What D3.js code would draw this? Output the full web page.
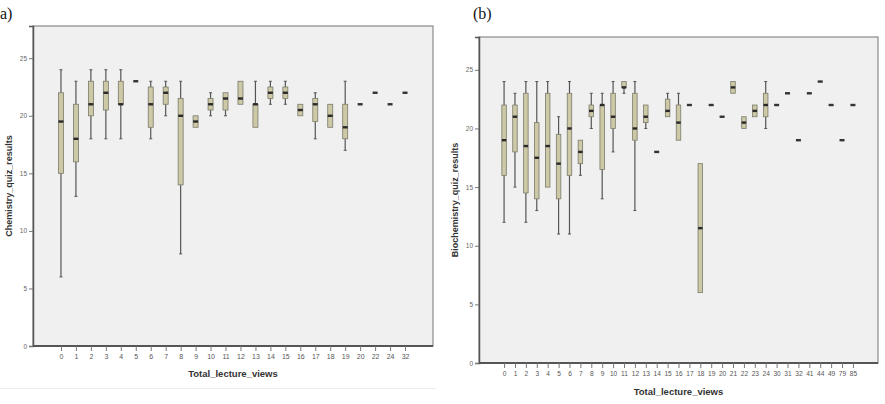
<!DOCTYPE html>
<html><head><meta charset="utf-8">
<script src="https://cdn.jsdelivr.net/npm/d3@7"></script>
<style>body{margin:0;background:#fff}svg{display:block}</style>
</head><body>
<svg id="chart" width="885" height="404"></svg>
<script>
// ---- Data: (a) Chemistry quiz results by total lecture views ----
const chemCats = ["0","1","2","3","4","5","6","7","8","9","10","11","12","13","14","15","16","17","18","19","20","22","24","32"];
const chemMin  = [6, 13, 18, 18,   18, 23, 18,   20,   8,  19,  20,   20,   21,   19, 21,   21,   20,   18,   19, 17, 21, 22, 21, 22];
const chemQ1   = [15,16, 20, 20.5, 21, 23, 19,   21,   14, 19,  20.5, 20.5, 21,   19, 21.5, 21.5, 20,   19.5, 19, 18, 21, 22, 21, 22];
const chemMed  = [19.5,18,21,22,   21, 23, 21,   22,   20, 19.5,21,   21.5, 21.5, 21, 22,   22,   20.5, 21,   20, 19, 21, 22, 21, 22];
const chemQ3   = [22, 21, 23, 23,   23, 23, 22.5, 22.5, 21.5,20, 21.5, 22,   23,   21, 22.5, 22.5, 21,   21.5, 21, 21, 21, 22, 21, 22];
const chemMax  = [24, 23, 24, 24,   24, 23, 23,   23,   23, 20,  22,   22,   23,   23, 23,   23,   21,   22,   21, 23, 21, 22, 21, 22];

// ---- Data: (b) Biochemistry quiz results by total lecture views ----
const bioCats = ["0","1","2","3","4","5","6","7","8","9","10","11","12","13","14","15","16","17","18","19","20","21","22","23","24","30","31","32","41","44","49","79","85"];
const bioMin  = [12, 15, 12,   13,   15,   11,   11, 16, 20,   14,   18, 23,   13, 20,   18, 21,   19,   22, 6,    22, 21, 23,   20,   21,   20, 22, 23, 19, 23, 24, 22, 19, 22];
const bioQ1   = [16, 18, 14.5, 14,   15,   14,   16, 17, 21,   16.5, 20, 23.5, 19, 20.5, 18, 21,   19,   22, 6,    22, 21, 23,   20,   21,   21, 22, 23, 19, 23, 24, 22, 19, 22];
const bioMed  = [19, 21, 18.5, 17.5, 18.5, 17,   20, 18, 21.5, 22,   21, 23.5, 20, 21,   18, 21.5, 20.5, 22, 11.5, 22, 21, 23.5, 20.5, 21.5, 22, 22, 23, 19, 23, 24, 22, 19, 22];
const bioQ3   = [22, 22, 23,   20.5, 23,   19.5, 23, 19, 22,   22,   23, 24,   23, 22,   18, 22.5, 22,   22, 17,   22, 21, 24,   21,   22,   23, 22, 23, 19, 23, 24, 22, 19, 22];
const bioMax  = [24, 23, 24,   24,   24,   21,   24, 19, 23,   23,   24, 24,   24, 22,   18, 23,   23,   22, 17,   22, 21, 24,   21,   22,   24, 22, 23, 19, 23, 24, 22, 19, 22];

const yTicks = [0, 5, 10, 15, 20, 25];

const svg = d3.select("#chart");
svg.append("line").attr("x1",0).attr("x2",436).attr("y1",388.5).attr("y2",388.5)
  .attr("stroke","#ececec").attr("stroke-width",1);

function panel(cfg) {
  const {cats, mn, q1, md, q3, mx, x0, x1, y0, y1, pad, boxW, yTitle, xLabelSize, xLabelY, xTitleY, yTitleX} = cfg;
  const x = d3.scalePoint().domain(cats).range([x0, x1]).padding(pad);
  const y = d3.scaleLinear().domain([0, 27.8]).range([y1, y0]);
  const g = svg.append("g");

  g.append("rect").attr("x", x0).attr("y", y0).attr("width", x1 - x0).attr("height", y1 - y0)
    .attr("fill", "#f0f0f0").attr("stroke", "#8a8a8a").attr("stroke-width", 1.2);

  const yAxis = d3.axisLeft(y).tickValues(yTicks).tickSize(4).tickPadding(2);
  const ga = g.append("g").attr("transform", `translate(${x0},0)`).call(yAxis);
  ga.select(".domain").attr("stroke", "#555").attr("stroke-width", 1.5);
  ga.selectAll(".tick line").attr("stroke", "#777");
  ga.selectAll(".tick text").attr("font-size", 6.5).attr("fill", "#666").attr("font-family", "Liberation Sans, Arial, sans-serif");

  const xAxis = d3.axisBottom(x).tickSize(5).tickPadding(3);
  const gx = g.append("g").attr("transform", `translate(0,${y1})`).call(xAxis);
  gx.select(".domain").attr("stroke", "#555").attr("stroke-width", 1.8).attr("d", `M${x0},0H${x1}`);
  gx.selectAll(".tick line").attr("stroke", "#777");
  gx.selectAll(".tick text").attr("font-size", xLabelSize).attr("fill", "#555")
    .attr("font-family", "Liberation Sans, Arial, sans-serif").attr("y", xLabelY);

  g.append("text").attr("x", (x0 + x1) / 2).attr("y", xTitleY).attr("text-anchor", "middle")
    .attr("font-family", "Liberation Sans, Arial, sans-serif").attr("font-weight", "bold")
    .attr("font-size", 9.5).attr("fill", "#333").text("Total_lecture_views");
  g.append("text").attr("transform", `translate(${yTitleX},${(y0 + y1) / 2}) rotate(-90)`)
    .attr("text-anchor", "middle").attr("font-family", "Liberation Sans, Arial, sans-serif")
    .attr("font-weight", "bold").attr("font-size", 9).attr("fill", "#333").text(yTitle);

  const idx = d3.range(cats.length);
  const marks = g.append("g");
  idx.forEach(i => {
    const cx = x(cats[i]);
    if (mn[i] === mx[i]) {
      marks.append("rect").attr("x", cx - 2.5).attr("y", y(md[i]) - 1.2).attr("width", 5).attr("height", 2.4)
        .attr("fill", "#333");
      return;
    }
    if (mx[i] > q3[i]) {
      marks.append("line").attr("x1", cx).attr("x2", cx).attr("y1", y(mx[i])).attr("y2", y(q3[i]))
        .attr("stroke", "#555").attr("stroke-width", 1.2);
      marks.append("line").attr("x1", cx - 1.5).attr("x2", cx + 1.5).attr("y1", y(mx[i])).attr("y2", y(mx[i]))
        .attr("stroke", "#555").attr("stroke-width", 1);
    }
    if (mn[i] < q1[i]) {
      marks.append("line").attr("x1", cx).attr("x2", cx).attr("y1", y(q1[i])).attr("y2", y(mn[i]))
        .attr("stroke", "#555").attr("stroke-width", 1.2);
      marks.append("line").attr("x1", cx - 1.5).attr("x2", cx + 1.5).attr("y1", y(mn[i])).attr("y2", y(mn[i]))
        .attr("stroke", "#555").attr("stroke-width", 1);
    }
    marks.append("rect").attr("x", cx - boxW / 2).attr("y", y(q3[i])).attr("width", boxW)
      .attr("height", Math.max(1, y(q1[i]) - y(q3[i])))
      .attr("fill", "#cdc9a6").attr("stroke", "#7a7a6a").attr("stroke-width", 0.8);
    marks.append("rect").attr("x", cx - boxW / 2).attr("y", y(md[i]) - 1.2).attr("width", boxW).attr("height", 2.4)
      .attr("fill", "#2a2a2a");
  });
}

panel({cats: chemCats, mn: chemMin, q1: chemQ1, md: chemMed, q3: chemQ3, mx: chemMax,
  x0: 33, x1: 433, y0: 26, y1: 346, pad: 1.87, boxW: 5, yTitle: "Chemistry_quiz_results",
  xLabelSize: 7, xLabelY: 8, xTitleY: 377, yTitleX: 12});
panel({cats: bioCats, mn: bioMin, q1: bioQ1, md: bioMed, q3: bioQ3, mx: bioMax,
  x0: 479, x1: 878, y0: 37, y1: 363, pad: 2.3, boxW: 4.5, yTitle: "Biochemistry_quiz_results",
  xLabelSize: 6.6, xLabelY: 8, xTitleY: 395, yTitleX: 458});

svg.append("text").attr("x", 0).attr("y", 19).attr("font-family", "Liberation Serif, Times New Roman, serif")
  .attr("font-size", 16).attr("fill", "#111").text("a)");
svg.append("text").attr("x", 473).attr("y", 19).attr("font-family", "Liberation Serif, Times New Roman, serif")
  .attr("font-size", 16).attr("fill", "#111").text("(b)");
</script>
</body></html>
